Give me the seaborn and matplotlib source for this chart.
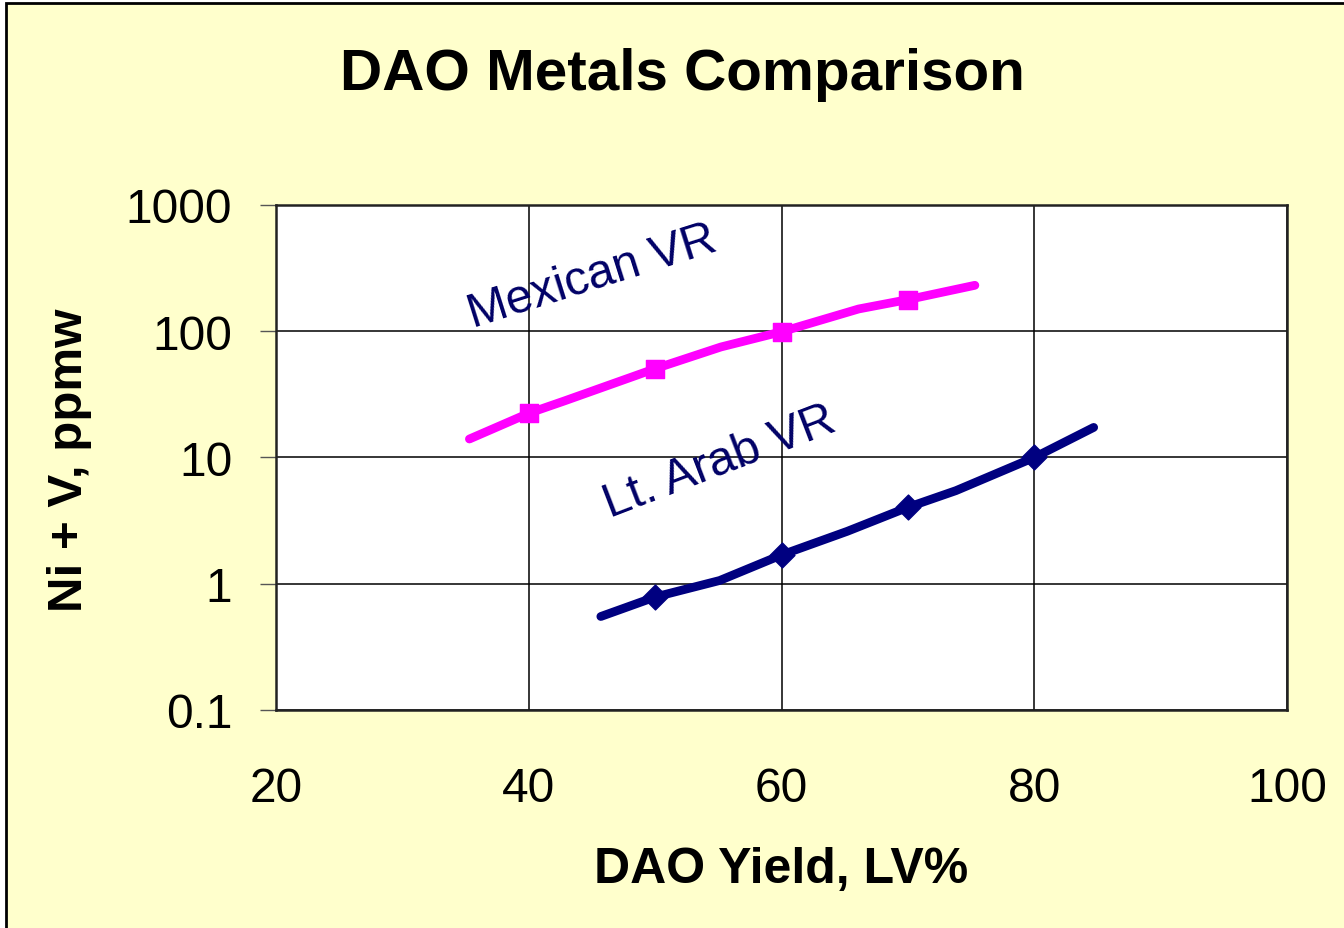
import matplotlib
matplotlib.use("Agg")
import matplotlib.pyplot as plt
from matplotlib.patches import Rectangle
import seaborn as sns

# DAO yield (LV%) vs Ni + V (ppmw)
mex_curve_x = [35.3, 40, 42.8, 50, 55.2, 60, 66.1, 70, 75.3]
mex_curve_y = [14.0, 22.4, 28.0, 50.5, 75.0, 99.0, 150.0, 178.0, 231.0]
mex_pts_x = [40, 50, 60, 70]
mex_pts_y = [22.4, 50.5, 99.0, 178.0]

arab_curve_x = [45.7, 50, 55.1, 60, 65.2, 70, 73.8, 80, 84.7]
arab_curve_y = [0.55, 0.785, 1.06, 1.69, 2.6, 4.03, 5.46, 10.0, 17.3]
arab_pts_x = [50, 60, 70, 80]
arab_pts_y = [0.785, 1.69, 4.03, 10.0]

x_ticks = [20, 40, 60, 80, 100]
y_ticks = [0.1, 1, 10, 100, 1000]
y_tick_labels = ["0.1", "1", "10", "100", "1000"]

sns.set_style("white")
plt.rcParams['font.family'] = ['Liberation Sans', 'DejaVu Sans']
plt.rcParams['text.color'] = 'black'
plt.rcParams['xtick.color'] = 'black'
plt.rcParams['ytick.color'] = 'black'

fig = plt.figure(figsize=(13.44, 9.29), dpi=100)
fig.patch.set_facecolor('white')
fig.patches.append(Rectangle((6 / 1344, -0.02), 1.1, 1 - 4 / 929 + 0.02,
                             transform=fig.transFigure, facecolor='#FFFFCC',
                             edgecolor='black', linewidth=2, zorder=-10))

ax = fig.add_axes([0.2054, 0.2347, 0.7522, 0.5436])
ax.set_facecolor('white')

sns.lineplot(x=mex_curve_x, y=mex_curve_y, sort=False, color='#FF00FF', linewidth=6.3, ax=ax)
sns.scatterplot(x=mex_pts_x, y=mex_pts_y, marker='s', s=170, color='#FF00FF',
                edgecolor='#FF00FF', ax=ax, zorder=5)
sns.lineplot(x=arab_curve_x, y=arab_curve_y, sort=False, color='#000080', linewidth=6.3, ax=ax)
sns.scatterplot(x=arab_pts_x, y=arab_pts_y, marker='D', s=160, color='#000080',
                edgecolor='#000080', ax=ax, zorder=5)

ax.set_yscale('log')
ax.set_xlim(20, 100)
ax.set_ylim(0.1, 1000)
ax.set_xticks(x_ticks)
ax.set_xticklabels([str(v) for v in x_ticks])
ax.set_yticks(y_ticks)
ax.set_yticklabels(y_tick_labels)
ax.minorticks_off()
ax.grid(True, color='black', linewidth=1.1)
ax.set_axisbelow(True)
for sp in ax.spines.values():
    sp.set_color('#222222')
    sp.set_linewidth(1.8)

ax.tick_params(axis='y', length=11.5, width=1, color='#555555', pad=20, labelsize=34.5, left=True)
ax.tick_params(axis='x', length=0, pad=40, labelsize=34.5)

ax.text(35.6, 108, 'Mexican VR', rotation=17.5, rotation_mode='anchor',
        ha='left', va='baseline', fontsize=34.5, color='#000066')
ax.text(46.4, 3.38, 'Lt. Arab VR', rotation=21, rotation_mode='anchor',
        ha='left', va='baseline', fontsize=34.5, color='#000066')

fig.text(0.5077, 0.919, 'DAO Metals Comparison', ha='center', va='center',
         fontsize=42, fontweight='bold')
fig.text(0.5815, 0.0635, 'DAO Yield, LV%', ha='center', va='center',
         fontsize=36, fontweight='bold')
fig.text(0.052, 0.5045, 'Ni + V, ppmw', ha='center', va='center', rotation=90,
         fontsize=35.5, fontweight='bold')

fig.savefig('out.png', dpi=100, facecolor=fig.get_facecolor())
